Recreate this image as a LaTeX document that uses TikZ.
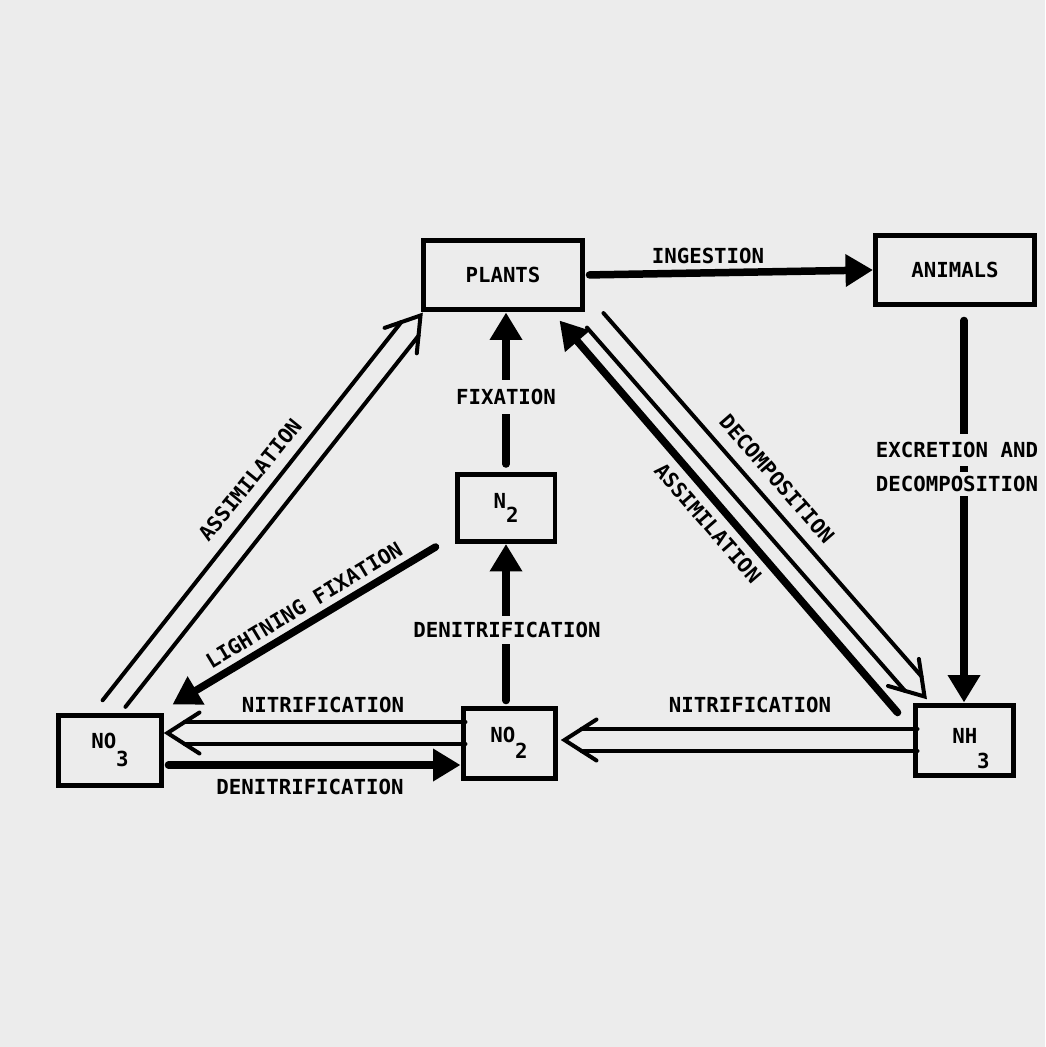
\documentclass[tikz,border=0pt]{standalone}
\usepackage{fontspec}
\newfontfamily\leroy{DejaVu Sans Mono}
\usetikzlibrary{arrows.meta,calc}
\definecolor{paper}{RGB}{236,236,236}
\newcommand\hollowarr[4]{%
  \begin{scope}[shift={#1}, rotate=#2]
    \draw[hl] (-32,-20.5) -- (0,0) -- (-32,20.5);
    \draw[hl] (-17,-11) -- (-#3,-11);
    \draw[hl] (-17,11) -- (-#4,11);
  \end{scope}}
\begin{document}
\begin{tikzpicture}[x=0.02cm,y=-0.02cm,
  every node/.style={font=\leroy\bfseries\fontsize{11.8pt}{14pt}\selectfont},
  box/.style={draw, line width=0.1cm, minimum height=1.4cm, inner sep=0pt},
  lbl/.style={fill=paper, inner xsep=0.06cm},
  fat/.style={line width=0.15cm, line cap=round, -{Triangle[length=0.55cm,width=0.62cm]}},
  hl/.style={line width=0.08cm, line cap=round, line join=miter},
]
\fill[paper] (0,0) rectangle (1045,1047);
\useasboundingbox (0,0) rectangle (1045,1047);

% boxes
\node[box, minimum width=3.2cm] (plants) at (503,275) {PLANTS};
\node[box, minimum width=3.18cm] (animals) at (955,270) {ANIMALS};
\node[box, minimum width=1.96cm, minimum height=1.34cm] (n2) at (506,508) {N\raisebox{-0.7em}{2}};
\node[box, minimum width=2.08cm] (no3) at (110,750) {NO\raisebox{-0.9em}{3}};
\node[box, minimum width=1.84cm] (no2) at (509,743) {NO\raisebox{-0.8em}{2}};
\node[box, minimum width=1.96cm, align=left] (nh3) at (964,740) {\rule{0pt}{0.64cm}\hspace*{0.28cm}NH\\\hspace*{0.28cm}\hspace*{1.2em}3};

% solid arrows
\draw[fat, shorten <=0.08cm] (plants.east) -- (animals.west);
\draw[fat, shorten <=0.16cm] (n2.north) -- (n2.north |- plants.south);
\draw[fat, shorten <=0.1cm] (n2.south |- no2.north) -- (n2.south);
\draw[fat] ($(n2.south west)+(-19,3)$) -- ($(no3.north east)+(8,-8)$);
\coordinate (dnS) at ($(no3.east)+(4,15)$);
\draw[fat] (dnS) -- (dnS -| no2.west);
\draw[fat, shorten <=0.26cm] (nh3.north |- animals.south) -- (nh3.north);
\draw[fat] ($(nh3.north west)+(-15,10)$) -- ($(plants.south east)+(-26,8)$);

% hollow arrows
\hollowarr{($(no3.east)+(3,-17)$)}{180}{298}{298}
\hollowarr{($(no2.east)+(7,-3)$)}{180}{353}{353}
\hollowarr{($(plants.south west)+(0,3)$)}{51.7}{499}{490}
\hollowarr{($(nh3.north west)+(12,-6)$)}{-48.8}{500}{500}

% labels
\node (lIng) at (708,256) {INGESTION};
\node[lbl, inner ysep=0.19cm] (lFix) at (506,397) {FIXATION};
\node[lbl, inner ysep=0.16cm] (lEx1) at (957,450) {EXCRETION AND};
\node[lbl, inner ysep=0.08cm] (lEx2) at (957,484) {DECOMPOSITION};
\node[lbl, inner ysep=0.13cm] (lDen1) at (507,630) {DENITRIFICATION};
\node (lNit1) at (323,705) {NITRIFICATION};
\node (lDen2) at (310,787) {DENITRIFICATION};
\node (lNit2) at (750,705) {NITRIFICATION};
\node[rotate=51] (lAs1) at (250,480) {ASSIMILATION};
\node[rotate=31] (lLF) at (304,605) {LIGHTNING FIXATION};
\node[rotate=-49] (lDec) at (777,479) {DECOMPOSITION};
\node[rotate=-49] (lAs2) at (708,523) {ASSIMILATION};
\end{tikzpicture}
\end{document}
